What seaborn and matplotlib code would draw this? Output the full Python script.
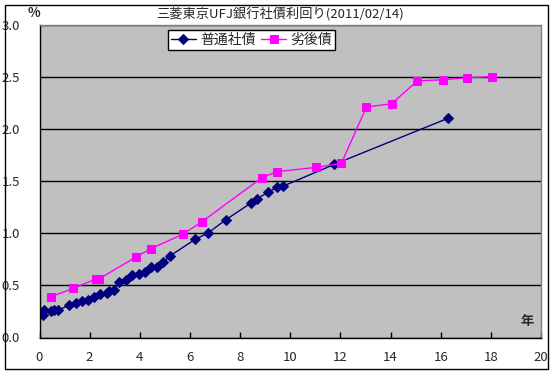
import matplotlib
matplotlib.use("Agg")
import matplotlib.pyplot as plt
import seaborn as sns
import pandas as pd
from matplotlib.patches import Rectangle

# ---- data ----
ordinary_x = [0.12, 0.18, 0.44, 0.59, 0.72, 1.19, 1.44, 1.68, 1.94, 2.19, 2.43, 2.68, 2.78,
              2.96, 3.18, 3.43, 3.70, 3.96, 4.20, 4.45, 4.69, 4.94, 5.19, 6.20, 6.71, 7.44,
              8.44, 8.68, 9.10, 9.47, 9.71, 11.76, 16.28]
ordinary_y = [0.22, 0.26, 0.25, 0.26, 0.26, 0.31, 0.33, 0.35, 0.36, 0.39, 0.42, 0.43, 0.45,
              0.46, 0.53, 0.55, 0.60, 0.61, 0.63, 0.68, 0.68, 0.72, 0.78, 0.94, 1.00, 1.13,
              1.29, 1.33, 1.39, 1.44, 1.45, 1.66, 2.10]
sub_x = [0.44, 1.34, 2.24, 2.36, 3.84, 4.43, 5.72, 6.48, 8.86, 9.47, 11.02, 12.04,
         13.04, 14.04, 15.07, 16.08, 17.04, 18.06]
sub_y = [0.39, 0.47, 0.56, 0.56, 0.77, 0.85, 0.99, 1.11, 1.53, 1.59, 1.63, 1.67,
         2.21, 2.24, 2.46, 2.47, 2.49, 2.50]
series_names = ["普通社債", "劣後債"]
title = "三菱東京UFJ銀行社債利回り(2011/02/14)"
x_ticks = [0, 2, 4, 6, 8, 10, 12, 14, 16, 18, 20]
y_ticks = [0.0, 0.5, 1.0, 1.5, 2.0, 2.5, 3.0]

sns.set_style("white")
plt.rcParams["font.family"] = ["Noto Sans CJK JP", "DejaVu Sans"]

W, H = 555, 373
fig = plt.figure(figsize=(W / 100, H / 100), dpi=100)
fig.patch.set_facecolor("white")
ax = fig.add_axes([39.5 / W, 1 - 337.5 / H, (541 - 39.5) / W, (337.5 - 24.5) / H])
ax.set_facecolor("#C0C0C0")

df1 = pd.DataFrame({"x": ordinary_x, "y": ordinary_y})
df2 = pd.DataFrame({"x": sub_x, "y": sub_y})
sns.lineplot(data=df1, x="x", y="y", ax=ax, sort=False, color="#000080", linewidth=1,
             marker="D", markersize=5, markeredgecolor="#000080", markerfacecolor="#000080",
             label=series_names[0])
sns.lineplot(data=df2, x="x", y="y", ax=ax, sort=False, color="#FF00FF", linewidth=1,
             marker="s", markersize=5.5, markeredgecolor="#FF00FF", markerfacecolor="#FF00FF",
             label=series_names[1])

ax.set_xlim(0, 20)
ax.set_ylim(0, 3.0)
ax.set_xticks(x_ticks)
ax.set_yticks(y_ticks)
ax.set_yticklabels([f"{v:.1f}" for v in y_ticks])
ax.set_xlabel("")
ax.set_ylabel("")
ax.yaxis.grid(True, color="black", linewidth=1)
ax.xaxis.grid(False)
ax.set_axisbelow(True)
ax.tick_params(axis="x", direction="in", length=4, width=1, color="black", pad=10,
               labelsize=9.5, bottom=True)
ax.tick_params(axis="y", length=0, pad=14, labelsize=9.5, left=False)
for lab in ax.get_yticklabels():
    lab.set_horizontalalignment("right")
for s in ["left", "bottom"]:
    ax.spines[s].set_color("black")
    ax.spines[s].set_linewidth(1)
for s in ["top", "right"]:
    ax.spines[s].set_color("#808080")
    ax.spines[s].set_linewidth(1)

leg = ax.legend(loc="upper left", bbox_to_anchor=(168 / W, 1 - 30 / H),
                bbox_transform=fig.transFigure, ncol=2, frameon=True, fancybox=False,
                edgecolor="black", framealpha=1, fontsize=10, borderaxespad=0,
                borderpad=0.2, handlelength=1.8, handletextpad=0.3, columnspacing=0.4)
leg.get_frame().set_linewidth(1)

fig.text(280 / W, 1 - 14 / H, title, ha="center", va="center", fontsize=9.5)
fig.text(34 / W, 1 - 13 / H, "%", ha="center", va="center", fontsize=9.5, fontweight="bold")
fig.text(527 / W, 1 - 321 / H, "年", ha="center", va="center", fontsize=9.5, fontweight="bold")

fig.patches.append(Rectangle((5 / W, 1 - 369 / H), 543 / W, 364 / H, transform=fig.transFigure,
                             fill=False, edgecolor="black", linewidth=1))

fig.savefig("out.png", dpi=100)
